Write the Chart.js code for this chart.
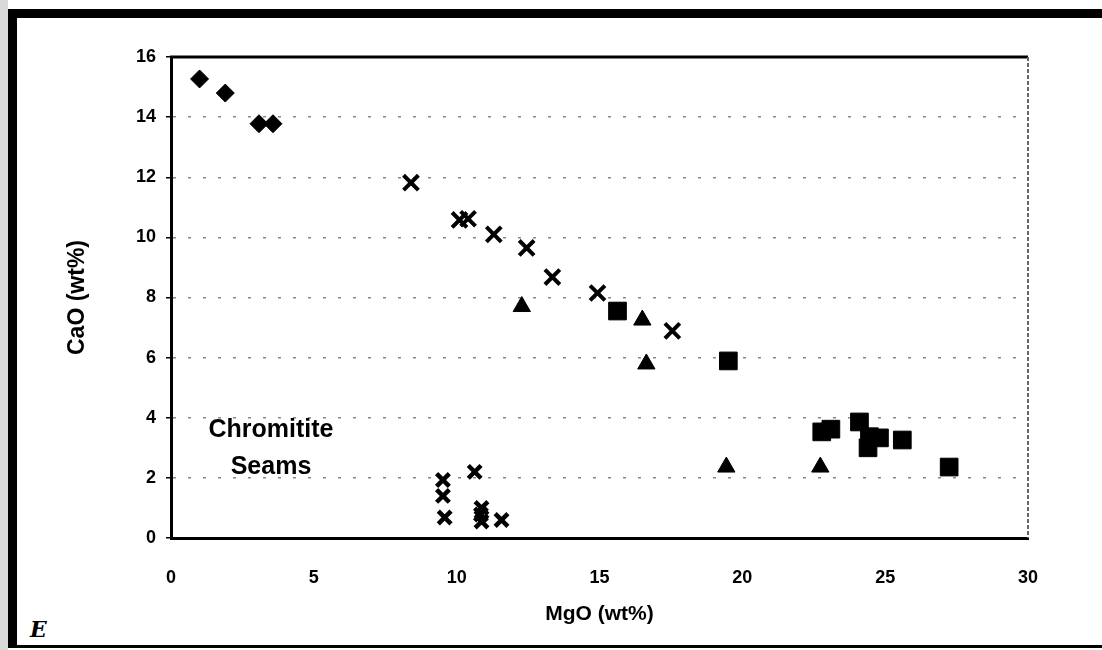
<!DOCTYPE html>
<html>
<head>
<meta charset="utf-8">
<script src="https://cdn.jsdelivr.net/npm/chart.js@4/dist/chart.umd.min.js"></script>
<style>
    body { margin: 0; background: #fff; }
    #wrap { position: relative; width: 1102px; height: 650px; overflow: hidden; }
    #strip { position: absolute; left: 0; top: 0; width: 8px; height: 650px; background: #d9d9d9; }
    #frame {
        position: absolute; left: 8px; top: 9px; width: 1092px; height: 627px;
        border-left: 9px solid #000; border-top: 9px solid #000; border-bottom: 3px solid #000;
        border-right: 1px dotted #999;
        box-sizing: content-box;
    }
    #mark { position: absolute; left: 30px; top: 616px; font: italic bold 22px "DejaVu Serif", serif; color: #000; }
    canvas { position: absolute; left: 0; top: 0; }
</style>
</head>
<body>
<div id="wrap">
    <div id="strip"></div>
    <div id="frame"></div>
    <span id="mark">E</span>
    <canvas id="mgoChart" width="1102" height="650"></canvas>
</div>
<script>
// MgO / CaO values, one pair of arrays per symbol
const diamondMgO = [1.0, 1.9, 3.08, 3.57];
const diamondCaO = [15.27, 14.8, 13.78, 13.78];

const crossMgO = [8.4, 10.1, 10.4, 11.3, 12.45, 13.35, 14.93, 17.55];
const crossCaO = [11.82, 10.58, 10.62, 10.1, 9.65, 8.68, 8.15, 6.89];

const seamMgO = [9.52, 9.52, 9.58, 10.63, 10.87, 10.85, 10.87, 11.57];
const seamCaO = [1.93, 1.4, 0.68, 2.2, 1.0, 0.78, 0.55, 0.6];

const triangleMgO = [12.28, 16.5, 16.64, 19.44, 22.73];
const triangleCaO = [7.7, 7.25, 5.79, 2.36, 2.36];

const squareMgO = [15.63, 19.51, 22.78, 23.1, 24.1, 24.45, 24.4, 24.8, 25.6, 27.24];
const squareCaO = [7.55, 5.89, 3.53, 3.62, 3.86, 3.37, 3.0, 3.33, 3.26, 2.36];

const xTicks = [0, 5, 10, 15, 20, 25, 30];
const yTicks = [0, 2, 4, 6, 8, 10, 12, 14, 16];

const noteLines = ['Chromitite', 'Seams'];
const noteMgO = 3.5;
const noteCaO = [3.6, 2.35];

function toPoints(xs, ys) {
    return xs.map((x, i) => ({ x: x, y: ys[i] }));
}

// top and right edges of the plot box
const boxPlugin = {
    id: 'box',
    beforeDatasetsDraw(chart) {
        const a = chart.chartArea;
        const ctx = chart.ctx;
        ctx.save();
        ctx.strokeStyle = '#000';
        ctx.lineWidth = 3;
        ctx.beginPath();
        ctx.moveTo(a.left - 1, a.top);
        ctx.lineTo(a.right, a.top);
        ctx.stroke();
        ctx.strokeStyle = '#666';
        ctx.lineWidth = 2;
        ctx.setLineDash([4, 2]);
        ctx.beginPath();
        ctx.moveTo(a.right, a.top);
        ctx.lineTo(a.right, a.bottom);
        ctx.stroke();
        ctx.restore();
    }
};

const notePlugin = {
    id: 'note',
    afterDraw(chart) {
        const ctx = chart.ctx;
        const xs = chart.scales.x;
        const ys = chart.scales.y;
        ctx.save();
        ctx.fillStyle = '#000';
        ctx.font = 'bold 25px "Liberation Sans", Arial, sans-serif';
        ctx.textAlign = 'center';
        ctx.textBaseline = 'middle';
        noteLines.forEach((t, i) => {
            ctx.fillText(t, xs.getPixelForValue(noteMgO), ys.getPixelForValue(noteCaO[i]));
        });
        ctx.restore();
    }
};

const font = { family: '"Liberation Sans", Arial, sans-serif', weight: 'bold' };

const ctx = document.getElementById('mgoChart').getContext('2d');
new Chart(ctx, {
    type: 'scatter',
    data: {
        datasets: [
            {
                label: 'diamonds',
                data: toPoints(diamondMgO, diamondCaO),
                pointStyle: 'rectRot',
                pointRadius: 9,
                backgroundColor: '#000',
                borderColor: '#000',
                borderWidth: 1
            },
            {
                label: 'crosses',
                data: toPoints(crossMgO, crossCaO),
                pointStyle: 'crossRot',
                pointRadius: 10.5,
                borderColor: '#000',
                borderWidth: 4
            },
            {
                label: 'seams',
                data: toPoints(seamMgO, seamCaO),
                pointStyle: 'crossRot',
                pointRadius: 9,
                borderColor: '#000',
                borderWidth: 4.5
            },
            {
                label: 'triangles',
                data: toPoints(triangleMgO, triangleCaO),
                pointStyle: 'triangle',
                pointRadius: 10,
                backgroundColor: '#000',
                borderColor: '#000',
                borderWidth: 1
            },
            {
                label: 'squares',
                data: toPoints(squareMgO, squareCaO),
                pointStyle: 'rect',
                pointRadius: 12.5,
                backgroundColor: '#000',
                borderColor: '#000',
                borderWidth: 1
            }
        ]
    },
    options: {
        responsive: false,
        animation: false,
        layout: { padding: { left: 62, top: 57, right: 74, bottom: 0 } },
        plugins: {
            legend: { display: false },
            tooltip: { enabled: false }
        },
        scales: {
            x: {
                type: 'linear',
                min: 0,
                max: 30,
                afterFit: (scale) => { scale.height = 112; },
                afterBuildTicks: (scale) => { scale.ticks = xTicks.map(v => ({ value: v })); },
                grid: { display: false },
                border: { display: true, color: '#000', width: 3 },
                ticks: { color: '#000', padding: 21, font: Object.assign({ size: 18 }, font) },
                title: {
                    display: true,
                    text: 'MgO (wt%)',
                    color: '#000',
                    padding: { top: 4, bottom: 23 },
                    font: Object.assign({ size: 21 }, font)
                }
            },
            y: {
                type: 'linear',
                min: 0,
                max: 16,
                afterFit: (scale) => { scale.width = 109; },
                afterBuildTicks: (scale) => { scale.ticks = yTicks.map(v => ({ value: v })); },
                grid: {
                    color: '#888',
                    lineWidth: 1.5,
                    tickLength: 5,
                    tickColor: '#000',
                    tickWidth: 1.5
                },
                border: { display: true, color: '#000', width: 3, dash: [3, 12] },
                ticks: { color: '#000', padding: 10, font: Object.assign({ size: 18 }, font) },
                title: {
                    display: true,
                    text: 'CaO (wt%)',
                    color: '#000',
                    padding: { top: 2, bottom: 2 },
                    font: Object.assign({ size: 23 }, font)
                }
            }
        }
    },
    plugins: [boxPlugin, notePlugin]
});
</script>
</body>
</html>
